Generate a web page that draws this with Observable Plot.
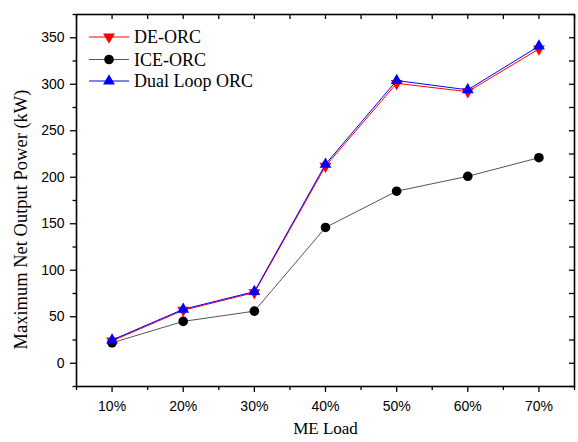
<!DOCTYPE html>
<html><head><meta charset="utf-8">
<script src="https://cdn.jsdelivr.net/npm/d3@7"></script>
<script src="https://cdn.jsdelivr.net/npm/@observablehq/plot@0.6"></script>
<style>
body{margin:0;background:#fff}
#wrap{position:relative;width:578px;height:442px}
#legend{position:absolute;left:0;top:0}
</style></head><body><div id="wrap"></div>
<script>
// ---- data ----
const loads = [10, 20, 30, 40, 50, 60, 70];
const deOrc = [24, 57, 76, 212, 301, 292, 338];
const iceOrc = [22, 45, 56, 146, 185, 201, 221];
const dualOrc = [25, 58, 77, 214, 304, 294, 341];
const seriesNames = ["DE-ORC", "ICE-ORC", "Dual Loop ORC"];
const xMajorTicks = [10, 20, 30, 40, 50, 60, 70];
const xMinorTicks = [5, 15, 25, 35, 45, 55, 65, 75];
const yMajorTicks = [0, 50, 100, 150, 200, 250, 300, 350];
const yMinorTicks = [-25, 25, 75, 125, 175, 225, 275, 325, 375];
const xLabel = "ME Load";
const yLabel = "Maximum Net Output Power (kW)";

// ---- styles ----
const W = 578, H = 442, mL = 76, mR = 4, mT = 14, mB = 56;
const plotW = W - mL - mR, plotH = H - mT - mB;
const styles = [
  {line: "#ff0000", fill: "#ff0000", symbol: "triangle", rotate: 180, r: 4.4},
  {line: "#555555", fill: "#000000", symbol: "circle", rotate: 0, r: 4.8},
  {line: "#0000ff", fill: "#0000ff", symbol: "triangle", rotate: 0, r: 4.4}
];
const seriesValues = [deOrc, iceOrc, dualOrc];
const series = seriesValues.map((vals, s) => loads.map((x, i) => ({x, y: vals[i], s})));

const tickFont = "Liberation Sans, Arial, sans-serif";
const serif = "Liberation Serif, Times New Roman, serif";

const marks = [
  Plot.axisY(yMajorTicks, {anchor: "left", tickSize: 6, tickPadding: 6, fontSize: 14, fontFamily: tickFont, label: null, strokeWidth: 1.3}),
  Plot.axisY(yMinorTicks, {anchor: "left", tickSize: 3.5, tickFormat: () => "", label: null, strokeWidth: 1.3}),
  Plot.axisX(xMajorTicks, {anchor: "bottom", tickSize: 6, tickPadding: 9, fontSize: 14, fontFamily: tickFont, tickFormat: d => d + "%", label: null, strokeWidth: 1.3}),
  Plot.axisX(xMinorTicks, {anchor: "bottom", tickSize: 4, tickFormat: () => "", label: null, strokeWidth: 1.3}),
  Plot.tickX(xMajorTicks.concat(xMinorTicks), {x: d => d, insetBottom: plotH - 5, stroke: "black", strokeWidth: 1.3}),
  Plot.tickY(yMajorTicks.concat(yMinorTicks), {y: d => d, insetLeft: plotW - 5, stroke: "black", strokeWidth: 1.3}),
  Plot.frame({stroke: "black", strokeWidth: 1.6}),
  Plot.text([xLabel], {frameAnchor: "bottom", dy: 47, fontSize: 17, fontFamily: serif, fill: "black"}),
  Plot.text([yLabel], {frameAnchor: "left", textAnchor: "middle", dx: -55, dy: 19, rotate: -90, fontSize: 18.5, fontFamily: serif, fill: "black"})
];
series.forEach((d, s) => {
  const st = styles[s];
  marks.push(Plot.line(d, {x: "x", y: "y", stroke: st.line, strokeWidth: 1}));
  marks.push(Plot.dot(d, {x: "x", y: "y", symbol: st.symbol, rotate: st.rotate, r: st.r, fill: st.fill, stroke: "none"}));
});

const chart = Plot.plot({
  width: W, height: H,
  marginLeft: mL, marginRight: mR, marginTop: mT, marginBottom: mB,
  x: {type: "linear", domain: [5, 75]},
  y: {domain: [-25, 375]},
  style: {background: "white", color: "black", overflow: "visible"},
  marks
});
document.getElementById("wrap").appendChild(chart);

// ---- legend ----
const leg = d3.select("#wrap").append("svg").attr("id", "legend").attr("width", 260).attr("height", 100);
const rowY = [37, 59.5, 81];
seriesNames.forEach((name, i) => {
  const st = styles[i];
  const g = leg.append("g").attr("transform", `translate(0,${rowY[i]})`);
  g.append("line").attr("x1", 89).attr("x2", 129).attr("stroke", st.line).attr("stroke-width", 1);
  const sym = st.symbol === "circle" ? d3.symbolCircle : d3.symbolTriangle;
  g.append("path").attr("d", d3.symbol(sym, st.r * st.r * Math.PI)())
    .attr("transform", `translate(109,0) rotate(${st.rotate})`).attr("fill", st.fill);
  g.append("text").attr("x", 134).attr("dy", "0.35em").attr("font-family", serif)
    .attr("font-size", 18).text(name);
});
</script></body></html>
